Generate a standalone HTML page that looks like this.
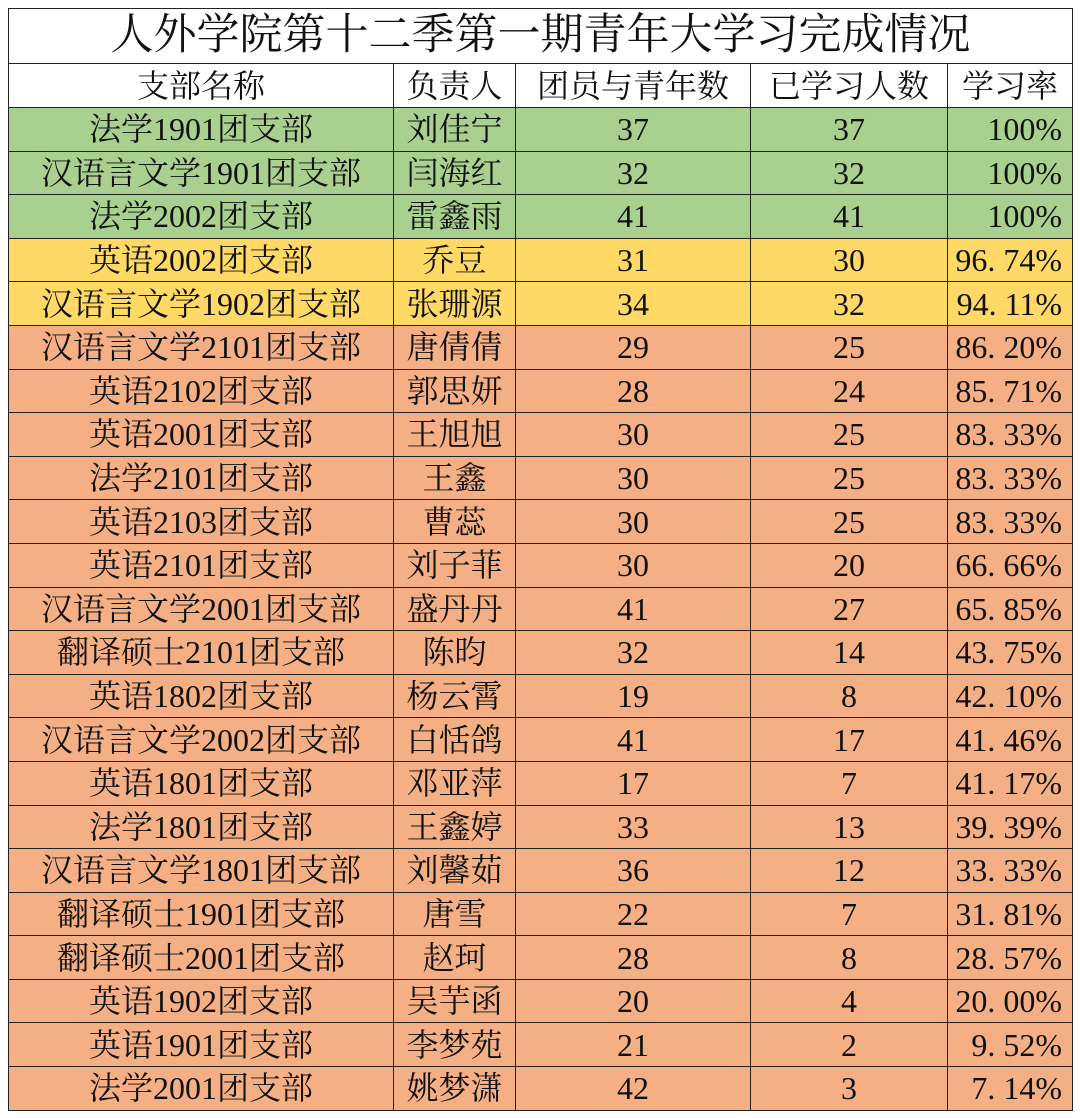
<!DOCTYPE html>
<html><head><meta charset="utf-8"><style>
body{margin:0;width:1080px;height:1118px;background:#fff;overflow:hidden}
table{position:absolute;left:8px;top:8px;border-collapse:collapse;table-layout:fixed;width:1064px;font-family:"Liberation Serif","Noto Serif CJK SC",serif;color:#111}
td{border:1.5px solid #222;padding:0;text-align:center;font-size:32px;line-height:40px;height:42.6px;white-space:nowrap;overflow:hidden}
tr.t td{font-size:43px;height:54px;line-height:50px}
tr.h td{height:43px}
td:nth-child(5){text-align:right;padding-right:10px}
tr.t td{text-align:center;padding:0}
tr.h td:nth-child(5){text-align:center;padding:0}
.g td{background:#a9d08e}.y td{background:#ffd966}.o td{background:#f4b084}
</style></head><body>
<table>
<colgroup><col style="width:385px"><col style="width:122px"><col style="width:235px"><col style="width:197px"><col style="width:125px"></colgroup>
<tr class="t"><td colspan="5">人外学院第十二季第一期青年大学习完成情况</td></tr>
<tr class="h"><td>支部名称</td><td>负责人</td><td>团员与青年数</td><td>已学习人数</td><td>学习率</td></tr>
<tr class="g"><td>法学1901团支部</td><td>刘佳宁</td><td>37</td><td>37</td><td>100%</td></tr>
<tr class="g"><td>汉语言文学1901团支部</td><td>闫海红</td><td>32</td><td>32</td><td>100%</td></tr>
<tr class="g"><td>法学2002团支部</td><td>雷鑫雨</td><td>41</td><td>41</td><td>100%</td></tr>
<tr class="y"><td>英语2002团支部</td><td>乔豆</td><td>31</td><td>30</td><td>96. 74%</td></tr>
<tr class="y"><td>汉语言文学1902团支部</td><td>张珊源</td><td>34</td><td>32</td><td>94. 11%</td></tr>
<tr class="o"><td>汉语言文学2101团支部</td><td>唐倩倩</td><td>29</td><td>25</td><td>86. 20%</td></tr>
<tr class="o"><td>英语2102团支部</td><td>郭思妍</td><td>28</td><td>24</td><td>85. 71%</td></tr>
<tr class="o"><td>英语2001团支部</td><td>王旭旭</td><td>30</td><td>25</td><td>83. 33%</td></tr>
<tr class="o"><td>法学2101团支部</td><td>王鑫</td><td>30</td><td>25</td><td>83. 33%</td></tr>
<tr class="o"><td>英语2103团支部</td><td>曹蕊</td><td>30</td><td>25</td><td>83. 33%</td></tr>
<tr class="o"><td>英语2101团支部</td><td>刘子菲</td><td>30</td><td>20</td><td>66. 66%</td></tr>
<tr class="o"><td>汉语言文学2001团支部</td><td>盛丹丹</td><td>41</td><td>27</td><td>65. 85%</td></tr>
<tr class="o"><td>翻译硕士2101团支部</td><td>陈昀</td><td>32</td><td>14</td><td>43. 75%</td></tr>
<tr class="o"><td>英语1802团支部</td><td>杨云霄</td><td>19</td><td>8</td><td>42. 10%</td></tr>
<tr class="o"><td>汉语言文学2002团支部</td><td>白恬鸽</td><td>41</td><td>17</td><td>41. 46%</td></tr>
<tr class="o"><td>英语1801团支部</td><td>邓亚萍</td><td>17</td><td>7</td><td>41. 17%</td></tr>
<tr class="o"><td>法学1801团支部</td><td>王鑫婷</td><td>33</td><td>13</td><td>39. 39%</td></tr>
<tr class="o"><td>汉语言文学1801团支部</td><td>刘馨茹</td><td>36</td><td>12</td><td>33. 33%</td></tr>
<tr class="o"><td>翻译硕士1901团支部</td><td>唐雪</td><td>22</td><td>7</td><td>31. 81%</td></tr>
<tr class="o"><td>翻译硕士2001团支部</td><td>赵珂</td><td>28</td><td>8</td><td>28. 57%</td></tr>
<tr class="o"><td>英语1902团支部</td><td>吴芋函</td><td>20</td><td>4</td><td>20. 00%</td></tr>
<tr class="o"><td>英语1901团支部</td><td>李梦苑</td><td>21</td><td>2</td><td>9. 52%</td></tr>
<tr class="o"><td>法学2001团支部</td><td>姚梦潇</td><td>42</td><td>3</td><td>7. 14%</td></tr>
</table>
</body></html>
